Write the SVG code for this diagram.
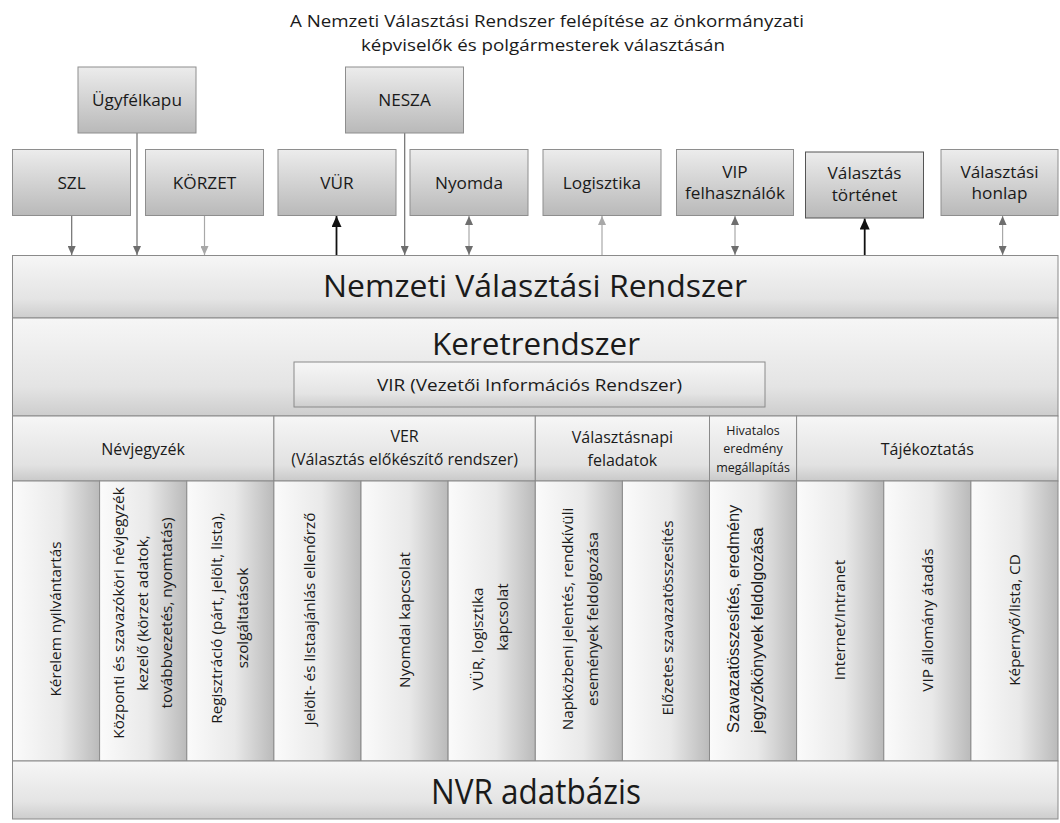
<svg xmlns="http://www.w3.org/2000/svg" width="1060" height="823" viewBox="0 0 1060 823">
<defs>
<linearGradient id="gBox" x1="0" y1="0" x2="0" y2="1">
<stop offset="0" stop-color="#ececec"/><stop offset="1" stop-color="#b9b9b9"/>
</linearGradient>
<linearGradient id="gBand" x1="0" y1="0" x2="0" y2="1">
<stop offset="0" stop-color="#f6f6f6"/><stop offset="0.7" stop-color="#e4e4e4"/><stop offset="1" stop-color="#cdcdcd"/>
</linearGradient>
<linearGradient id="gHead" x1="0" y1="0" x2="0" y2="1">
<stop offset="0" stop-color="#f6f6f6"/><stop offset="0.75" stop-color="#e2e2e2"/><stop offset="1" stop-color="#c9c9c9"/>
</linearGradient>
<linearGradient id="gCol" x1="0" y1="0" x2="1" y2="0">
<stop offset="0" stop-color="#fbfbfb"/><stop offset="0.55" stop-color="#e9e9e9"/><stop offset="1" stop-color="#bababa"/>
</linearGradient>
<marker id="aDark" markerUnits="userSpaceOnUse" markerWidth="10" markerHeight="8" refX="9" refY="4" orient="auto-start-reverse"><path d="M0,0 L9,4 L0,8 z" fill="#6e6e6e"/></marker>
<marker id="aLight" markerUnits="userSpaceOnUse" markerWidth="10" markerHeight="8" refX="9" refY="4" orient="auto-start-reverse"><path d="M0,0 L9,4 L0,8 z" fill="#a8a8a8"/></marker>
<marker id="aBlack" markerUnits="userSpaceOnUse" markerWidth="12" markerHeight="10" refX="11" refY="5" orient="auto-start-reverse"><path d="M0,0 L11,5 L0,10 z" fill="#111"/></marker>
</defs>
<style>
text{font-family:"Open Sans","Liberation Sans",sans-serif;fill:#1a1a1a;text-anchor:middle}
.box{fill:url(#gBox);stroke:#8e8e8e;stroke-width:1}
.band{fill:url(#gBand);stroke:#8a8a8a;stroke-width:1}
.head{fill:url(#gHead);stroke:#8a8a8a;stroke-width:1}
.col{fill:url(#gCol);stroke:#8a8a8a;stroke-width:1}
.lbl{font-size:17.2px}
.hd{font-size:16px}
.sm{font-size:12.5px}
.ct{font-size:15.3px}
.dark{stroke:#6e6e6e;stroke-width:1.2;fill:none}
.light{stroke:#a8a8a8;stroke-width:1.2;fill:none}
.black{stroke:#111;stroke-width:1.8;fill:none}
</style>

<g id="title">
<text x="547" y="27" font-size="17" textLength="514" lengthAdjust="spacingAndGlyphs">A Nemzeti Választási Rendszer felépítése az önkormányzati</text>
<text x="543" y="51" font-size="17" textLength="364" lengthAdjust="spacingAndGlyphs">képviselők és polgármesterek választásán</text>
</g>

<g id="connectors">
<line class="dark" x1="71.7" y1="215.5" x2="71.7" y2="255" marker-end="url(#aDark)"/>
<line class="dark" x1="137" y1="133" x2="137" y2="255" marker-end="url(#aDark)"/>
<line class="light" x1="204.5" y1="215.5" x2="204.5" y2="255" marker-end="url(#aLight)"/>
<line class="black" x1="336.5" y1="264" x2="336.5" y2="216" marker-end="url(#aBlack)"/>
<line class="dark" x1="404.7" y1="133" x2="404.7" y2="255" marker-end="url(#aDark)"/>
<line class="light" x1="469" y1="216" x2="469" y2="255" marker-start="url(#aDark)" marker-end="url(#aDark)"/>
<line class="light" x1="602" y1="255" x2="602" y2="216" marker-end="url(#aLight)"/>
<line class="light" x1="735" y1="216" x2="735" y2="255" marker-start="url(#aDark)" marker-end="url(#aDark)"/>
<line class="black" x1="864.7" y1="264" x2="864.7" y2="218.5" marker-end="url(#aBlack)"/>
<line class="light" x1="1002.6" y1="216" x2="1002.6" y2="255" marker-start="url(#aDark)" marker-end="url(#aDark)"/>
</g>

<g id="ugyfelkapu"><rect class="box" x="78" y="67" width="118" height="66"/><text class="lbl" x="137" y="106">Ügyfélkapu</text></g>
<g id="nesza"><rect class="box" x="345.5" y="67" width="118" height="66"/><text class="lbl" x="404.5" y="106">NESZA</text></g>
<g id="szl"><rect class="box" x="12.5" y="149.5" width="118" height="66"/><text class="lbl" x="71.5" y="188.5">SZL</text></g>
<g id="korzet"><rect class="box" x="145.5" y="149.5" width="118" height="66"/><text class="lbl" x="204.5" y="188.5">KÖRZET</text></g>
<g id="vur"><rect class="box" x="278" y="149.5" width="118" height="66"/><text class="lbl" x="337" y="188.5">VÜR</text></g>
<g id="nyomda"><rect class="box" x="410" y="149.5" width="118" height="66"/><text class="lbl" x="469" y="188.5">Nyomda</text></g>
<g id="logisztika"><rect class="box" x="543" y="149.5" width="118" height="66"/><text class="lbl" x="602" y="188.5">Logisztika</text></g>
<g id="vip"><rect class="box" x="676.5" y="149.5" width="117" height="66"/><text class="lbl" x="735" y="178">VIP</text><text class="lbl" x="735" y="199">felhasználók</text></g>
<g id="tortenet"><rect class="box" x="805.5" y="152" width="118" height="66" style="stroke:#555"/><text class="lbl" x="864.5" y="179">Választás</text><text class="lbl" x="864.5" y="201">történet</text></g>
<g id="honlap"><rect class="box" x="941" y="149.5" width="117" height="66"/><text class="lbl" x="999.5" y="178">Választási</text><text class="lbl" x="999.5" y="199">honlap</text></g>

<g id="nvr"><rect class="band" x="12.5" y="255.5" width="1045.5" height="62.5"/><text x="535" y="297" font-size="31" textLength="424" lengthAdjust="spacingAndGlyphs">Nemzeti Választási Rendszer</text></g>
<g id="keret"><rect class="band" x="12.5" y="318" width="1045.5" height="98"/><text x="536" y="355" font-size="31" textLength="208" lengthAdjust="spacingAndGlyphs">Keretrendszer</text></g>
<g id="vir"><rect class="band" x="294" y="362" width="471" height="45"/><text x="529.5" y="391" font-size="17" textLength="305" lengthAdjust="spacingAndGlyphs">VIR (Vezetői Információs Rendszer)</text></g>

<g id="h-nevjegyzek"><rect class="head" x="12.5" y="416" width="261.4" height="65"/><text class="hd" x="143" y="455">Névjegyzék</text></g>
<g id="h-ver"><rect class="head" x="273.9" y="416" width="261.4" height="65"/><text class="hd" x="404.6" y="442">VER</text><text class="hd" x="404.6" y="465">(Választás előkészítő rendszer)</text></g>
<g id="h-valasztasnapi"><rect class="head" x="535.3" y="416" width="174.2" height="65"/><text class="hd" x="622.4" y="443">Választásnapi</text><text class="hd" x="622.4" y="466">feladatok</text></g>
<g id="h-hivatalos"><rect class="head" x="709.5" y="416" width="87.1" height="65"/><text class="sm" x="753" y="435">Hivatalos</text><text class="sm" x="753" y="453">eredmény</text><text class="sm" x="753" y="472">megállapítás</text></g>
<g id="h-tajekoztatas"><rect class="head" x="796.6" y="416" width="261.4" height="65"/><text class="hd" x="927.3" y="455">Tájékoztatás</text></g>

<g id="c1"><rect class="col" x="12.5" y="481" width="87.1" height="280"/><text class="ct" transform="translate(56,619) rotate(-90)" y="5">Kérelem nyilvántartás</text></g>
<g id="c2"><rect class="col" x="99.6" y="481" width="87.2" height="280"/><text class="ct" transform="translate(143,613) rotate(-90)"><tspan x="0" y="-19">Központi és szavazóköri névjegyzék</tspan><tspan x="0" y="5">kezelő (körzet adatok,</tspan><tspan x="0" y="29">továbbvezetés, nyomtatás)</tspan></text></g>
<g id="c3"><rect class="col" x="186.8" y="481" width="87.1" height="280"/><text class="ct" transform="translate(230,618) rotate(-90)"><tspan x="0" y="-8">Regisztráció (párt, jelölt, lista),</tspan><tspan x="0" y="18">szolgáltatások</tspan></text></g>
<g id="c4"><rect class="col" x="273.9" y="481" width="87.1" height="280"/><text class="ct" transform="translate(310,619) rotate(-90)" y="5">Jelölt- és listaajánlás ellenőrző</text></g>
<g id="c5"><rect class="col" x="361" y="481" width="87.1" height="280"/><text class="ct" transform="translate(405,620) rotate(-90)" y="5">Nyomdai kapcsolat</text></g>
<g id="c6"><rect class="col" x="448.1" y="481" width="87.2" height="280"/><text class="ct" transform="translate(491,620) rotate(-90)"><tspan x="-19" y="-8">VÜR, logisztika</tspan><tspan x="3" y="17">kapcsolat</tspan></text></g>
<g id="c7"><rect class="col" x="535.3" y="481" width="87.1" height="280"/><text class="ct" transform="translate(579.5,619) rotate(-90)"><tspan x="0" y="-7">Napközbeni jelentés, rendkívüli</tspan><tspan x="0" y="18">események feldolgozása</tspan></text></g>
<g id="c8"><rect class="col" x="622.4" y="481" width="87.1" height="280"/><text class="ct" transform="translate(668,618) rotate(-90)" y="5">Előzetes szavazatösszesítés</text></g>
<g id="c9"><rect class="col" x="709.5" y="481" width="87.1" height="280"/><text transform="translate(745,733) rotate(-90)" style="font-family:'Liberation Sans',Arial,sans-serif;font-size:16.5px;text-anchor:start"><tspan x="0" y="-6">Szavazatösszesítés, eredmény</tspan><tspan x="0" y="18">jegyzőkönyvek feldolgozása</tspan></text></g>
<g id="c10"><rect class="col" x="796.6" y="481" width="87.2" height="280"/><text class="ct" transform="translate(840,620) rotate(-90)" y="5">Internet/Intranet</text></g>
<g id="c11"><rect class="col" x="883.8" y="481" width="87.1" height="280"/><text class="ct" transform="translate(928,620) rotate(-90)" y="5">VIP állomány átadás</text></g>
<g id="c12"><rect class="col" x="970.9" y="481" width="87.1" height="280"/><text class="ct" transform="translate(1015,620) rotate(-90)" y="5">Képernyő/lista, CD</text></g>

<g id="adatbazis"><rect class="band" x="12.5" y="761" width="1045.5" height="58"/><text x="536" y="804" font-size="34" textLength="210" lengthAdjust="spacingAndGlyphs">NVR adatbázis</text></g>
</svg>
